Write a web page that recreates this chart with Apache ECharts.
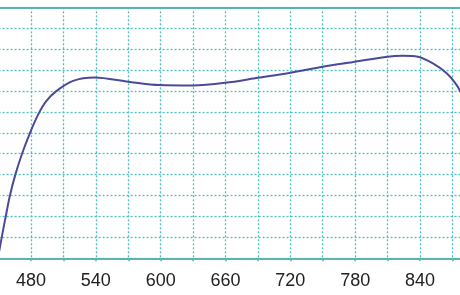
<!DOCTYPE html>
<html>
<head>
<meta charset="utf-8">
<script src="https://cdn.jsdelivr.net/npm/echarts@6/dist/echarts.min.js"></script>
<style>html,body{margin:0;padding:0;background:#fff}#c{width:460px;height:295px}</style>
</head>
<body>
<div id="c"></div>
<script>
var wavelengths = [449, 452.9, 456.6, 460.5, 465.5, 471.7, 479.1, 486.7, 493.9, 503.1, 518.9, 539, 570, 599, 630, 660, 690, 720, 750, 780, 810, 824, 838, 852, 865, 874, 880];
var values =      [-0.1, 1.0, 2.0, 3.0, 4.0, 5.0, 6.0, 6.88, 7.5, 7.98, 8.48, 8.64, 8.44, 8.28, 8.26, 8.39, 8.63, 8.87, 9.16, 9.4, 9.64, 9.68, 9.64, 9.32, 8.84, 8.28, 7.7];
var xLabels = [480, 540, 600, 660, 720, 780, 840];

var teal = '#4dbdbd';
var chart = echarts.init(document.getElementById('c'), null, {renderer: 'canvas'});
chart.setOption({
  animation: false,
  grid: {left: -1.4, right: -3.2, top: 7.3, bottom: 36.7, containLabel: false, outerBoundsMode: 'none'},
  xAxis: [{
    type: 'value', min: 450, max: 880, interval: 30,
    axisLine: {show: true, lineStyle: {color: '#5ab4b4', width: 2}},
    axisTick: {show: true, length: 3, lineStyle: {color: '#5ab4b4', width: 1.5}},
    axisLabel: {
      interval: 0, margin: 14, color: '#222', fontSize: 18, fontFamily: 'Liberation Sans, Arial, sans-serif',
      formatter: function (v) { return xLabels.indexOf(v) >= 0 ? String(v) : ''; }
    },
    splitLine: {show: true, lineStyle: {color: teal, type: [2, 2], width: 1.3}}
  }, {
    type: 'value', position: 'top', min: 450, max: 880,
    axisLine: {show: true, lineStyle: {color: '#5ab4b4', width: 2}},
    axisTick: {show: false}, axisLabel: {show: false}, splitLine: {show: false}
  }],
  yAxis: {
    type: 'value', min: 0, max: 12, interval: 1,
    axisLine: {show: false}, axisTick: {show: false}, axisLabel: {show: false},
    splitLine: {show: true, lineStyle: {color: teal, type: [2, 2], width: 1.3}}
  },
  series: [{
    type: 'line', xAxisIndex: 0,
    data: wavelengths.map(function (w, i) { return [w, values[i]]; }),
    smooth: 0.3, showSymbol: false, clip: true,
    lineStyle: {color: '#4a4a98', width: 2}
  }]
});
</script>
</body>
</html>
